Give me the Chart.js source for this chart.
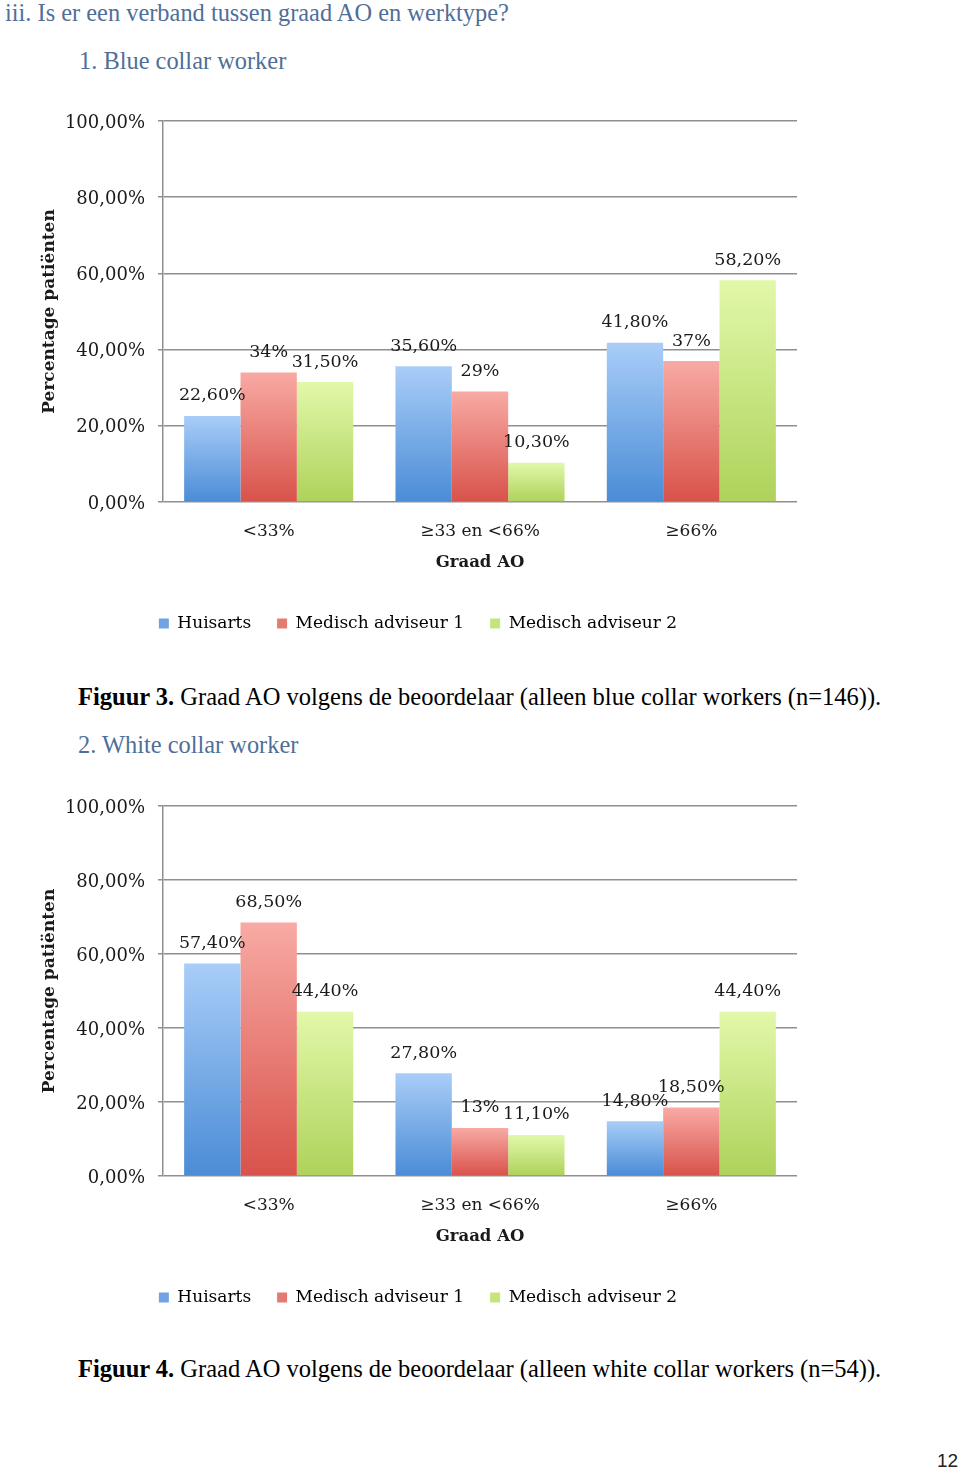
<!DOCTYPE html>
<html>
<head>
<meta charset="utf-8">
<script src="https://cdn.jsdelivr.net/npm/chart.js@4/dist/chart.umd.min.js"></script>
<style>
  html, body { margin: 0; padding: 0; background: #fff; }
  body { position: relative; width: 960px; height: 1469px; overflow: hidden; font-family: "Liberation Serif", serif; }
  .txt { position: absolute; white-space: nowrap; line-height: 1; }
  .head { color: #4f6f99; font-size: 24.4px; }
  .caption { color: #000; font-size: 24.5px; }
  .pagenr { font-family: "Liberation Sans", sans-serif; font-size: 19px; color: #222; }
  .box { position: absolute; left: 0; width: 840px; }
</style>
</head>
<body>

<div class="txt head" style="left:5px; top:1px;">iii. Is er een verband tussen graad AO en werktype?</div>
<div class="txt head" style="left:79px; top:49px;">1. Blue collar worker</div>
<div class="box" style="top:95px; height:547px;"><canvas id="blueChart"></canvas></div>
<div class="txt caption" style="left:78px; top:685px;"><b>Figuur 3.</b> Graad AO volgens de beoordelaar (alleen blue collar workers (n=146)).</div>

<div class="txt head" style="left:78px; top:733px;">2. White collar worker</div>
<div class="box" style="top:780px; height:536px;"><canvas id="whiteChart"></canvas></div>
<div class="txt caption" style="left:78px; top:1357px;"><b>Figuur 4.</b> Graad AO volgens de beoordelaar (alleen white collar workers (n=54)).</div>

<div class="txt pagenr" style="left:937px; top:1451px;">12</div>

<script>
// ===== Graad AO per beoordelaar =====

// --- Data ---
const categories = ["<33%", "≥33 en <66%", "≥66%"];
const raters = ["Huisarts", "Medisch adviseur 1", "Medisch adviseur 2"];
const yTicks = [0, 20, 40, 60, 80, 100];

// blue collar workers (n=146)
const blueHuisarts = [22.6, 35.6, 41.8];
const blueMA1 = [34, 29, 37];
const blueMA2 = [31.5, 10.3, 58.2];

// white collar workers (n=54)
const whiteHuisarts = [57.4, 27.8, 14.8];
const whiteMA1 = [68.5, 13, 18.5];
const whiteMA2 = [44.4, 11.1, 44.4];

// --- Styling ---
const FONT = "'DejaVu Serif', serif";
const GRID = "#8f8f8f";
const INK = "#1a1a1a";
const fills = [
  { top: "#a9cdf8", bottom: "#4a8cd6", flat: "#6fa3e3" },
  { top: "#f8aaa4", bottom: "#d8524a", flat: "#e57a72" },
  { top: "#e2f8aa", bottom: "#aed25a", flat: "#c6e47c" }
];

// --- Helpers ---
const pct = v => v.toFixed(2).replace(".", ",") + "%";
const barLabel = v => Number.isInteger(v) ? v + "%" : pct(v);

function barFill(idx) {
  return ctx => {
    const chart = ctx.chart;
    const f = fills[idx];
    if (!chart.chartArea || ctx.parsed == null) return f.flat;
    const y = chart.scales.y;
    const top = y.getPixelForValue(ctx.parsed.y);
    const bottom = y.getPixelForValue(0);
    const g = chart.ctx.createLinearGradient(0, top, 0, bottom);
    g.addColorStop(0, f.top);
    g.addColorStop(1, f.bottom);
    return g;
  };
}

// value labels above each bar
const valueLabels = {
  id: "valueLabels",
  afterDatasetsDraw(chart) {
    const c = chart.ctx;
    c.save();
    c.font = "17.5px " + FONT;
    c.fillStyle = INK;
    c.textAlign = "center";
    c.textBaseline = "middle";
    chart.data.datasets.forEach((ds, i) => {
      chart.getDatasetMeta(i).data.forEach((bar, j) => {
        c.fillText(barLabel(ds.data[j]), bar.x, bar.y - 20);
      });
    });
    c.restore();
  }
};

function makeChart(id, series) {
  return new Chart(document.getElementById(id), {
    type: "bar",
    data: {
      labels: categories,
      datasets: series.map((data, i) => ({
        label: raters[i],
        data,
        backgroundColor: barFill(i),
        borderWidth: 0,
        categoryPercentage: 0.8,
        barPercentage: 1.0
      }))
    },
    options: {
      responsive: true,
      maintainAspectRatio: false,
      animation: false,
      events: [],
      layout: { padding: { left: 39, right: 43, top: 26, bottom: 0 } },
      plugins: {
        tooltip: { enabled: false },
        legend: {
          position: "bottom",
          labels: {
            font: { family: FONT, size: 17 },
            color: INK,
            boxWidth: 10,
            boxHeight: 10,
            padding: 26,
            generateLabels: chart => chart.data.datasets.map((ds, i) => ({
              text: ds.label,
              fillStyle: fills[i].flat,
              strokeStyle: fills[i].flat,
              lineWidth: 0,
              datasetIndex: i
            }))
          }
        }
      },
      scales: {
        x: {
          grid: { display: false, drawTicks: false },
          border: { display: false },
          ticks: { font: { family: FONT, size: 17 }, color: INK, padding: 19 },
          title: {
            display: true,
            text: "Graad AO",
            font: { family: FONT, size: 16.5, weight: "bold" },
            color: INK,
            padding: { top: 0, bottom: 16 }
          },
          afterFit: s => { s.height = 87; }
        },
        y: {
          min: 0,
          max: 100,
          afterBuildTicks: s => { s.ticks = yTicks.map(value => ({ value })); },
          grid: { color: GRID, lineWidth: 1.5, tickLength: 5 },
          border: { display: true, color: GRID, width: 1.5 },
          ticks: { font: { family: FONT, size: 18 }, color: INK, padding: 13, labelOffset: 2, callback: v => pct(v) },
          title: {
            display: true,
            text: "Percentage patiënten",
            font: { family: FONT, size: 17, weight: "bold", lineHeight: 1 },
            color: INK,
            padding: { top: 2, bottom: 0 }
          },
          afterFit: s => { s.width = 124; }
        }
      }
    },
    plugins: [valueLabels]
  });
}

// --- Init ---
makeChart("blueChart", [blueHuisarts, blueMA1, blueMA2]);
makeChart("whiteChart", [whiteHuisarts, whiteMA1, whiteMA2]);
</script>
</body>
</html>
